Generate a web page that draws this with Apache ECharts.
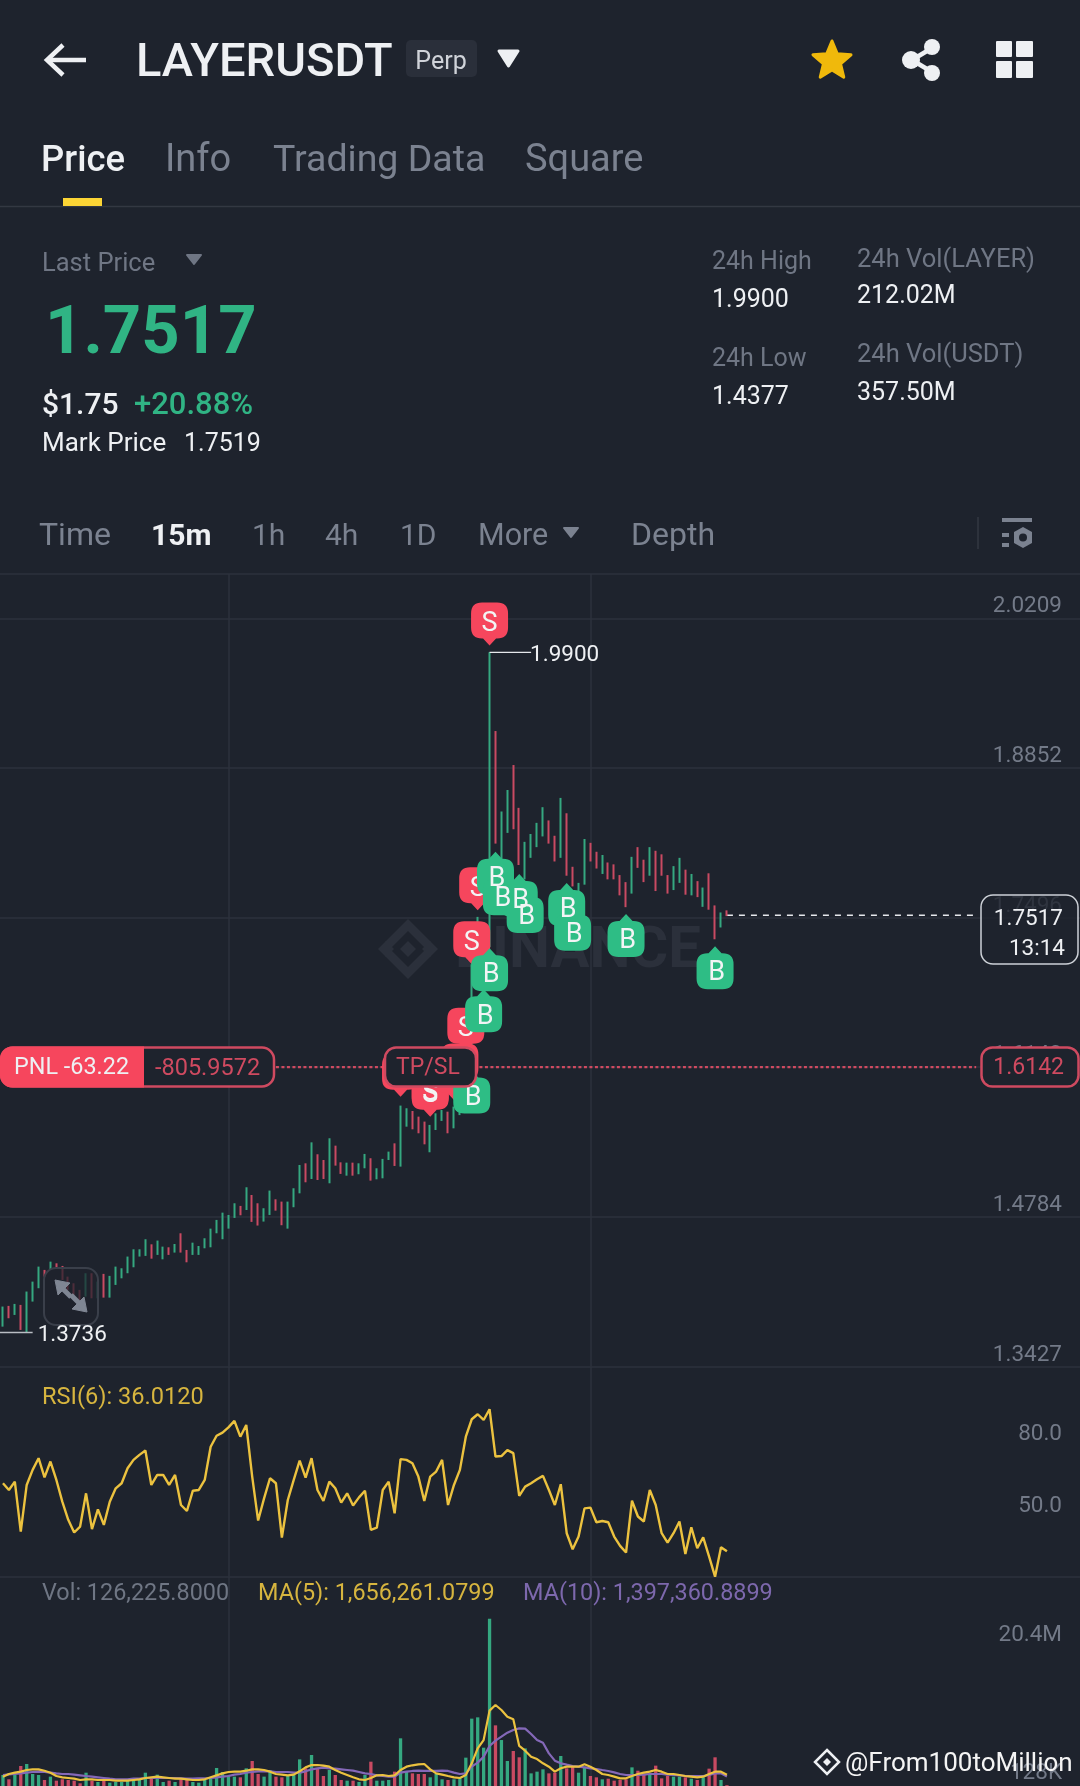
<!DOCTYPE html>
<html><head><meta charset="utf-8">
<style>html,body{margin:0;padding:0;background:#1e232d}#c{width:1080px;height:1786px}</style>
<script src="https://cdn.jsdelivr.net/npm/echarts@6/dist/echarts.min.js"></script>
</head><body><div id="c"></div>
<script>
const categories = Array.from({length:182},(_,i)=>'c'+i);
const opens = [
1.3810,1.3960,1.3910,1.3965,1.3785,1.4040,1.4160,1.4295,1.4310,1.4358,
1.4330,1.4230,1.4170,1.4115,1.4075,1.4260,1.4060,1.4255,1.4065,1.4180,
1.4240,1.4285,1.4340,1.4432,1.4440,1.4525,1.4450,1.4410,1.4502,1.4468,
1.4620,1.4475,1.4450,1.4448,1.4510,1.4520,1.4646,1.4600,1.4690,1.4788,
1.4875,1.4860,1.4970,1.4895,1.4755,1.4815,1.4935,1.4910,1.4695,1.4885,
1.5012,1.5258,1.5142,1.5340,1.5288,1.5105,1.5418,1.5270,1.5166,1.5268,
1.5178,1.5233,1.5305,1.5133,1.5145,1.5306,1.5440,1.5256,1.5612,1.5733,
1.5683,1.5636,1.5385,1.5583,1.5662,1.5726,1.5598,1.5715,1.5815,1.6290,
1.7045,1.6950,1.7260,1.8800,1.8000,1.8280,1.8860,1.8475,1.7860,1.8050,
1.8145,1.8245,1.8365,1.8225,1.8052,1.8428,1.7945,1.7692,1.7808,1.8162,
1.8082,1.7903,1.7985,1.7968,1.7870,1.7805,1.7728,1.8123,1.8010,1.7888,
1.8090,1.8058,1.7872,1.7758,1.7823,1.7920,1.7710,1.7817,1.7605,1.7885,
1.7595,1.7418,1.7550];
const closes = [
1.3950,1.3885,1.3980,1.3785,1.4085,1.4175,1.4310,1.4255,1.4365,1.4325,
1.4225,1.4135,1.4075,1.4045,1.4255,1.4060,1.4185,1.4065,1.4235,1.4320,
1.4310,1.4410,1.4480,1.4484,1.4570,1.4418,1.4560,1.4505,1.4448,1.4532,
1.4475,1.4385,1.4540,1.4512,1.4582,1.4665,1.4745,1.4808,1.4790,1.4895,
1.4808,1.5040,1.4755,1.4720,1.4850,1.5010,1.4850,1.4722,1.4910,1.5030,
1.5240,1.5110,1.5445,1.5132,1.5140,1.5480,1.5260,1.5182,1.5268,1.5166,
1.5262,1.5345,1.5125,1.5215,1.5298,1.5368,1.5256,1.5775,1.5757,1.5590,
1.5552,1.5455,1.5605,1.5712,1.5745,1.5553,1.5772,1.5796,1.6275,1.7020,
1.7480,1.7229,1.8500,1.8190,1.8440,1.8640,1.8315,1.7990,1.8170,1.8242,
1.8345,1.8485,1.8178,1.8018,1.8565,1.7890,1.7790,1.7800,1.8195,1.8016,
1.7952,1.8053,1.7853,1.7853,1.7710,1.7605,1.8035,1.7958,1.7830,1.8122,
1.7750,1.7888,1.7725,1.7950,1.8026,1.7716,1.7880,1.7692,1.7758,1.7580,
1.7315,1.7532,1.7517];
const lows = [
1.3790,1.3866,1.3896,1.3760,1.3736,1.4017,1.4138,1.4243,1.4304,1.4319,
1.4213,1.4123,1.4062,1.4032,1.4062,1.4047,1.4047,1.4053,1.4053,1.4168,
1.4228,1.4274,1.4328,1.4425,1.4431,1.4406,1.4440,1.4400,1.4440,1.4461,
1.4461,1.4373,1.4440,1.4440,1.4500,1.4509,1.4636,1.4582,1.4678,1.4775,
1.4799,1.4847,1.4739,1.4706,1.4742,1.4802,1.4841,1.4709,1.4678,1.4872,
1.4998,1.5098,1.5128,1.5119,1.5128,1.5089,1.5249,1.5174,1.5158,1.5158,
1.5171,1.5225,1.5113,1.5125,1.5134,1.5300,1.5246,1.5240,1.5602,1.5578,
1.5542,1.5442,1.5370,1.5572,1.5654,1.5542,1.5587,1.5707,1.5805,1.6130,
1.7034,1.6873,1.7229,1.8167,1.7973,1.8264,1.8297,1.7973,1.7843,1.8038,
1.8135,1.8232,1.8167,1.8005,1.8038,1.7876,1.7779,1.7682,1.7795,1.8005,
1.7941,1.7892,1.7843,1.7843,1.7698,1.7591,1.7714,1.7947,1.7818,1.7876,
1.7737,1.7876,1.7714,1.7746,1.7811,1.7704,1.7698,1.7682,1.7594,1.7568,
1.7300,1.7407,1.7510];
const highs = [
1.3972,1.3978,1.3996,1.3987,1.4108,1.4198,1.4334,1.4304,1.4379,1.4364,
1.4340,1.4243,1.4183,1.4123,1.4274,1.4274,1.4198,1.4268,1.4250,1.4334,
1.4319,1.4425,1.4491,1.4491,1.4582,1.4536,1.4570,1.4515,1.4509,1.4539,
1.4636,1.4485,1.4551,1.4521,1.4591,1.4678,1.4757,1.4823,1.4802,1.4908,
1.4884,1.5053,1.4983,1.4908,1.4863,1.5023,1.4944,1.4923,1.4923,1.5044,
1.5255,1.5270,1.5460,1.5352,1.5300,1.5497,1.5430,1.5279,1.5276,1.5276,
1.5270,1.5355,1.5316,1.5225,1.5310,1.5376,1.5451,1.5793,1.5769,1.5744,
1.5693,1.5648,1.5618,1.5723,1.5753,1.5738,1.5784,1.5805,1.6290,1.7073,
1.7503,1.7455,1.9900,1.9187,1.8458,1.8653,1.8879,1.8491,1.8183,1.8254,
1.8355,1.8497,1.8377,1.8238,1.8581,1.8442,1.7957,1.7811,1.8209,1.8174,
1.8093,1.8064,1.7996,1.7979,1.7882,1.7818,1.8047,1.8135,1.8021,1.8135,
1.8102,1.8070,1.7882,1.7963,1.8038,1.7931,1.7892,1.7827,1.7769,1.7898,
1.7607,1.7543,1.7562];
const rsi = [
64.5,61.7,65.2,44.3,63.8,70.1,75.0,67.0,73.6,65.9,
56.8,49.2,43.9,46.4,60.3,45.3,53.6,47.1,56.8,62.4,
64.5,70.8,74.3,76.4,78.2,63.8,68.0,68.0,63.8,68.0,
55.4,52.9,61.4,61.7,65.9,79.8,84.4,85.7,87.9,90.6,
84.0,88.9,67.3,48.9,58.2,66.6,64.5,41.8,57.5,65.9,
74.0,66.9,75.0,61.7,57.1,65.2,62.4,56.4,60.3,55.2,
58.6,61.4,45.0,45.9,61.7,65.2,51.9,74.6,74.3,72.9,
67.3,57.1,67.3,69.4,74.3,55.4,63.8,70.1,84.0,91.3,
93.4,91.0,95.5,75.7,75.9,78.4,77.1,59.2,63.1,64.5,
66.2,67.6,61.7,55.4,64.1,43.6,36.9,42.2,54.0,54.3,
48.2,48.7,48.2,42.2,38.3,35.5,57.2,50.6,48.5,61.7,
55.4,43.6,39.7,43.6,48.5,34.9,46.1,37.3,41.9,33.8,
25.4,37.7,36.012];
const volumes = [
1.61,0.98,1.61,2.93,3.22,1.76,1.61,0.88,1.37,0.78,
0.98,0.88,0.78,0.39,1.95,0.78,0.59,0.78,0.49,0.59,
0.59,0.78,1.07,1.07,1.95,1.07,1.66,0.59,0.78,0.59,
1.17,0.88,0.59,0.49,0.88,1.27,2.64,2.05,1.56,1.37,
1.27,2.59,3.66,1.76,1.37,2.34,1.37,1.27,1.61,1.61,
3.90,2.59,4.54,2.59,1.46,2.34,1.61,0.88,0.78,0.78,
0.59,1.61,3.56,0.78,0.78,0.88,2.10,6.98,2.10,1.85,
1.76,1.76,1.27,1.76,0.98,0.88,0.98,1.12,4.15,9.86,
10.05,5.61,24.50,8.88,6.73,3.66,5.12,4.20,5.51,1.85,
2.10,2.44,1.85,1.95,4.39,2.59,2.83,1.95,2.83,1.46,
1.27,0.98,1.07,0.78,0.88,0.98,2.73,2.24,1.61,1.61,
2.98,1.12,1.46,1.37,1.37,1.27,1.07,0.88,1.27,2.54,
4.20,0.88,0.126];
const volMa5 = [
1.37,1.76,1.95,2.10,2.34,2.44,2.44,2.24,1.95,1.46,
1.27,1.17,1.07,0.88,0.98,0.98,0.88,0.88,0.88,0.78,
0.78,0.78,0.88,0.98,1.17,1.27,1.37,1.27,1.17,1.07,
1.07,0.98,0.88,0.88,0.98,1.27,1.56,1.85,2.05,2.10,
2.10,2.24,2.44,2.44,2.34,2.10,1.76,1.66,1.56,1.66,
2.15,2.73,3.07,3.07,2.98,2.83,2.34,1.95,1.61,1.27,
0.98,0.88,1.17,1.56,1.61,1.46,1.56,2.34,2.83,3.03,
3.17,3.22,2.44,1.85,1.66,1.46,1.27,1.17,1.61,3.32,
5.51,6.73,11.03,11.86,11.13,10.15,9.76,5.86,5.17,4.29,
3.95,3.32,2.83,2.10,2.59,2.83,2.83,2.83,3.17,2.83,
2.34,1.76,1.61,1.37,1.12,1.12,1.46,1.76,1.95,2.10,
2.34,2.10,1.76,1.76,1.61,1.46,1.37,1.27,1.37,1.76,
2.10,2.10,1.656];
const volMa10 = [
1.61,1.71,1.76,1.85,1.95,2.05,2.10,2.05,1.95,1.85,
1.76,1.76,1.66,1.56,1.46,1.37,1.27,1.17,1.07,0.98,
0.98,0.98,1.07,1.07,1.17,1.17,1.17,1.17,1.17,1.17,
1.12,1.07,1.07,1.12,1.12,1.17,1.27,1.37,1.46,1.66,
1.76,1.95,2.05,2.15,2.15,2.15,2.05,2.05,2.05,1.95,
1.95,2.15,2.44,2.59,2.68,2.59,2.54,2.44,2.34,2.24,
2.05,1.85,1.76,1.56,1.46,1.37,1.37,1.95,2.10,2.20,
2.24,2.20,2.20,2.20,2.24,2.20,1.95,1.76,1.85,2.83,
3.42,4.29,5.86,6.64,7.22,7.81,8.20,8.44,8.39,7.61,
6.73,6.34,4.78,3.71,3.32,3.12,2.93,2.83,2.73,2.59,
2.49,2.34,2.20,2.00,1.76,1.61,1.61,1.61,1.66,1.76,
1.76,1.76,1.66,1.61,1.56,1.46,1.46,1.46,1.46,1.61,
1.85,1.85,1.397];
const sellMarks = [[67,1.5874],[72,1.5692],[72,1.5710],[76,1.5843],[77,1.5966],[78,1.6290],[79,1.7073],[80,1.7562],[82,1.9963]];
const buyMarks = [[79,1.6112],[81,1.6847],[82,1.7219],[83,1.8093],[84,1.7908],[87,1.7892],[88,1.7746],[95,1.7811],[96,1.7585],[105,1.7529],[120,1.7238]];
const priceTicks = [1.3427,1.4784,1.6142,1.7496,1.8852,2.0209];
const rsiTicks = [50,80];
const volTicks = [0.128,20.4];
const lastPrice = 1.7517, slPrice = 1.6142, periodHigh = 1.9900, periodLow = 1.3736;

const BG='#1e232d', GRID='#2d323c', GREY='#737a88', GREYT='#7b8290', WHITE='#eef0f3';
const UP='#35a880', DOWN='#c94a62', RED='#f6465d', GREEN='#2ebd85', PNLRED='#cf4a60';
const FONT='Roboto';
const gap=[38,99];
function T(text,x,y,size,fill,weight,align){const yy=y+2+0.07*size;return {type:'text',z:100,style:{text,x,y:yy,fill,font:(weight||400)+' '+size+'px '+FONT,textAlign:align||'left',textVerticalAlign:'middle',align:align||'left',verticalAlign:'middle'}};}
function R(x,y,w,h,r,fill,stroke,lw,z){return {type:'rect',z:z||100,shape:{x,y,width:w,height:h,r},style:{fill:fill||'transparent',stroke:stroke||null,lineWidth:lw||0}};}
function L(x1,y1,x2,y2,stroke,lw,z){return {type:'line',z:z||100,shape:{x1,y1,x2,y2},style:{stroke,lineWidth:lw||1}};}
function P(points,fill,stroke,lw,z){return {type:'polygon',z:z||100,shape:{points},style:{fill,stroke:stroke||fill,lineWidth:lw||0,lineJoin:'round'}};}
function C(cx,cy,r,fill){return {type:'circle',z:100,shape:{cx,cy,r},style:{fill}};}
function star(cx,cy,R1,R2){const p=[];for(let i=0;i<10;i++){const a=-Math.PI/2+i*Math.PI/5,r=i%2?R2:R1;p.push([cx+r*Math.cos(a),cy+r*Math.sin(a)]);}return p;}

const chrome=[
 // header
 L(47,60,86,60,WHITE,4.5), {type:'polyline',z:100,shape:{points:[[63,45],[47,60],[63,75]]},style:{stroke:WHITE,lineWidth:4.5,fill:null}},
 T('LAYERUSDT',136,59,47,WHITE,500),
 R(406,40,71,37,5,'#2a2f3a'), T('Perp',441,59,25,'#d0d3d9',400,'center'),
 P([[499,51],[518,51],[508.5,66]],WHITE,WHITE,3),
 P(star(832,61,20,9),'#f0b90b','#f0b90b',3),
 L(912,60,932,48,WHITE,4.5),L(912,60,932,72,WHITE,4.5),C(911,60,9,WHITE),C(932,47,8,WHITE),C(932,73,8,WHITE),
 R(996,41,16,16,1,WHITE),R(1016,41,17,16,1,WHITE),R(996,61,16,17,1,WHITE),R(1016,61,17,17,1,WHITE),
 // tabs
 T('Price',41,157,36.5,WHITE,500),T('Info',165,157,38,GREYT),T('Trading Data',273,157,37.5,GREYT),T('Square',525,157,38,GREYT),
 L(0,206.5,1080,206.5,'#333842',1.5), R(63,198,39,8,0,'#fcd535'),
 // price block
 T('Last Price',42,261,25.5,'#6f7684'),P([[187,255],[201,255],[194,264]],'#6f7684','#6f7684',2),
 T('1.7517',45,330,67,'#30b484',700),
 T('$1.75',42,402,30,WHITE,500),T('+20.88%',134,402,31,'#30b484',500),
 T('Mark Price',42,441,26,WHITE),T('1.7519',184,441,25,WHITE),
 T('24h High',712,259,25,'#6f7684'),T('1.9900',712,297,25,WHITE),
 T('24h Low',712,356,25,'#6f7684'),T('1.4377',712,394,25,WHITE),
 T('24h Vol(LAYER)',857,257,25.5,'#6f7684'),T('212.02M',857,293,25,WHITE),
 T('24h Vol(USDT)',857,352,25.5,'#6f7684'),T('357.50M',857,390,25,WHITE),
 // interval row
 T('Time',39,533,32,GREYT),T('15m',151,533,30,WHITE,700),T('1h',252,533,30,GREYT),T('4h',325,533,30,GREYT),T('1D',400,533,30,GREYT),
 T('More',478,533,30.5,GREYT),P([[564,528],[578,528],[571,537]],GREYT,GREYT,2),T('Depth',631,533,32,GREYT),
 L(978,517,978,549,'#333842',1.5),
 R(1002,518,30,4,0,GREYT),R(1002,533,7,4,0,GREYT),R(1002,543,7,4,0,GREYT),P([[1023,527],[1032,532],[1032,543],[1023,548],[1014,543],[1014,532]],GREYT),C(1023,537.5,4,BG),
 L(0,574,1080,574,GRID,1.5),
 // watermark
 {type:'group',z:1,children:[
  P([[408,941],[416,949],[408,957],[400,949]],'#2b303b',null,0,1),
  P([[386,941],[394,949],[386,957],[378,949]],'#2b303b',null,0,1),
  P([[430,941],[438,949],[430,957],[422,949]],'#2b303b',null,0,1),
  P([[408,919],[431,942],[425,948],[408,931],[391,948],[385,942]],'#2b303b',null,0,1),
  P([[408,979],[431,956],[425,950],[408,967],[391,950],[385,956]],'#2b303b',null,0,1),
  {type:'text',z:1,style:{text:'BINANCE',x:455,y:952,fill:'#2b303b',font:'700 58px '+FONT,textVerticalAlign:'middle',verticalAlign:'middle'}}
 ]},
 // expand button
 R(44,1268,54,57,12,'rgba(30,35,44,0.72)','#3a3f4a',2,50),
 P([[55,1280],[70,1283],[58,1295]],'#7f8693','#7f8693',1,51),L(60,1286,71,1297,'#7f8693',5,51),
 P([[87,1312],[72,1309],[84,1297]],'#7f8693','#7f8693',1,51),L(82,1306,71,1295,'#7f8693',5,51),
 // price boxes
 R(981,895,97,69,12,'rgba(30,35,45,0.8)','#cdd1d7',1.5),
 T('1.7517',1063,916,22.5,WHITE,400,'right'),T('13:14',1065,946,22.5,WHITE,400,'right'),
 R(981.5,1047.5,97,39,11,BG,PNLRED,2.5),T('1.6142',1064,1065,23,PNLRED,400,'right'),
 R(1,1047.5,273,39,12,BG,PNLRED,2.5),
 R(0,1046.5,144,41,[12,0,0,12],RED),
 T('PNL -63.22',14,1065,23.4,WHITE),T('-805.9572',155,1065,23.5,PNLRED),
 R(385,1047.5,91,39,11,BG,PNLRED,2.5),T('TP/SL',428,1065,23,PNLRED,400,'center'),
 // panel captions
 T('RSI(6): 36.0120',42,1394,23.6,'#d7b53f'),
 T('Vol: 126,225.8000',42,1591,23.4,'#6f7684'),T('MA(5): 1,656,261.0799',258,1591,23.4,'#d7b53f'),T('MA(10): 1,397,360.8899',523,1591,23.4,'#7d68ad'),
 // corner credit
 {type:'polygon',z:100,shape:{points:[[827,1750],[839,1762],[827,1774],[815,1762]]},style:{fill:'transparent',stroke:WHITE,lineWidth:2.5}},
 P([[827,1758],[831,1762],[827,1766],[823,1762]],WHITE),
 {type:'text',z:100,style:{text:'@From100toMillion',x:845,y:1764,fill:'#f4f4f4',font:'400 26px '+FONT,textVerticalAlign:'middle',verticalAlign:'middle',shadowBlur:3,shadowColor:'#000'}}
];

const onGap=(i)=>gap.includes(i);
function xAxis(gridIndex,line){return {type:'category',gridIndex,data:categories,boundaryGap:true,
  axisLine:{show:!!line,lineStyle:{color:GRID,width:1.5},onZero:false},axisLabel:{show:false},
  axisTick:{show:false,alignWithLabel:true,interval:onGap},
  splitLine:{show:true,alignWithLabel:true,interval:onGap,lineStyle:{color:GRID,width:1.5}}};}
function yAxis(gridIndex,min,max,ticks,fmt,split){return {type:'value',gridIndex,position:'right',min,max,scale:true,
  axisLine:{show:false},axisTick:{show:false,customValues:ticks},
  axisLabel:{inside:true,margin:18,customValues:ticks,formatter:fmt,color:GREY,fontFamily:FONT,fontSize:22.5,verticalAlign:'bottom',padding:0},
  splitLine:{show:split,lineStyle:{color:GRID,width:1.5}}};}
const markPath={
 S:'path://M11 0H26Q37 0 37 11V25Q37 36 26 36H25L18.5 43L12 36H11Q0 36 0 25V11Q0 0 11 0Z',
 B:'path://M18.5 0L25 7H26Q37 7 37 18V32Q37 43 26 43H11Q0 43 0 32V18Q0 7 11 7H12Z'};
function marks(name,data,color,off,z,lab){return {type:'scatter',name,xAxisIndex:0,yAxisIndex:0,data,z,silent:true,clip:false,
  symbol:markPath[name],symbolSize:[37,43],symbolOffset:[0,off],itemStyle:{color,opacity:1},
  label:{show:true,position:'inside',formatter:name,color:'#f2f4f5',fontFamily:FONT,fontSize:27,fontWeight:'normal',offset:[lab,name==='S'?0:6]}};}
function hline(data,color,type,width,z,label,dist){return {type:'line',xAxisIndex:0,yAxisIndex:0,data,symbol:'none',silent:true,z:z,
  lineStyle:{color,type,width},label:{show:false},endLabel:label?{show:true,formatter:label,color:WHITE,fontFamily:FONT,fontSize:22.5,distance:dist,offset:[0,3]}:undefined};}

const chart=echarts.init(document.getElementById('c'),null,{renderer:'canvas'});
chart.setOption({
 animation:false,backgroundColor:BG,
 grid:[
  {left:0,width:1083,top:574,height:792.7},
  {left:0,width:1083,top:1366.7,height:210},
  {left:0,width:1083,top:1576.7,height:209.3}],
 xAxis:[xAxis(0),xAxis(1,true),xAxis(2)],
 yAxis:[
  yAxis(0,1.3427,2.0610,priceTicks,v=>v.toFixed(4),true),
  yAxis(1,25.4,113.3,rsiTicks,v=>v.toFixed(1),false),
  yAxis(2,0,30.64,volTicks,v=>v>=1?v.toFixed(1)+'M':Math.round(v*1000)+'K',false)],
 series:[
  {type:'candlestick',xAxisIndex:0,yAxisIndex:0,z:3,barWidth:1.2,silent:true,
   data:opens.map((o,i)=>[o,closes[i],lows[i],highs[i]]),
   itemStyle:{color:UP,color0:DOWN,borderColor:UP,borderColor0:DOWN,borderWidth:2}},
  hline([[122,lastPrice],[164,lastPrice]],'#e6e8ec',[6,6],1.5,2),
  hline([[46,slPrice],[164,slPrice]],PNLRED,[3,2.5],2.4,2),
  hline([[82,periodHigh],[89,periodHigh]],'#e6e8ec','solid',1.3,60,'1.9900',-1),
  hline([[-1,periodLow],[5,periodLow]],'#b9bdc4','solid',1.5,60,'1.3736',5),
  marks('S',sellMarks,RED,-21.5,5,0),
  marks('B',buyMarks,GREEN,21.5,6,1.5),
  {type:'line',xAxisIndex:1,yAxisIndex:1,data:rsi,symbol:'none',silent:true,lineStyle:{color:'#ecc23f',width:2.4}},
  {type:'bar',xAxisIndex:2,yAxisIndex:2,barWidth:3.3,silent:true,
   data:volumes.map((v,i)=>({value:v,itemStyle:{color:closes[i]>=opens[i]?UP:DOWN}}))},
  {type:'line',xAxisIndex:2,yAxisIndex:2,data:volMa10,symbol:'none',silent:true,z:4,lineStyle:{color:'#8468b8',width:2.2}},
  {type:'line',xAxisIndex:2,yAxisIndex:2,data:volMa5,symbol:'none',silent:true,z:5,lineStyle:{color:'#ecc23f',width:2.2}}
 ],
 graphic:{elements:chrome}
});
</script></body></html>
